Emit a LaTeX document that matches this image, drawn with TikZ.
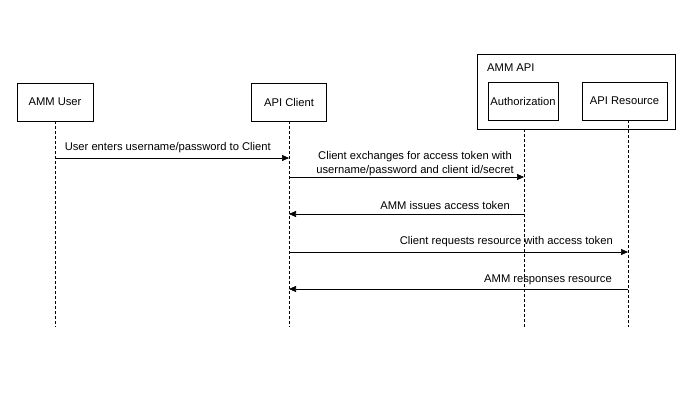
\documentclass[tikz,border=0pt]{standalone}
\usepackage{fontspec}
\setmainfont{Liberation Sans}
\usetikzlibrary{arrows.meta}
\begin{document}
\begin{tikzpicture}[x=1pt,y=-1pt,
  actor/.style={draw,line width=0.8pt,minimum height=38pt,inner sep=0pt,font=\fontsize{11.2}{13}\selectfont},
  life/.style={line width=0.7pt,dash pattern=on 3pt off 2pt},
  msg/.style={line width=0.7pt,-{Triangle[length=7pt,width=6pt]}},
  lbl/.style={font=\fontsize{11.2}{13.5}\selectfont,inner sep=0pt,align=center}]
\useasboundingbox (0,0) rectangle (691,405);
\node[draw,line width=0.8pt,minimum width=198pt,minimum height=75pt,inner sep=0pt] (api) at (576,91.5) {};
\node[lbl,anchor=west] (apit) at (487,68) {AMM API};
\node[actor,minimum width=76pt] (user) at (55,102) {AMM User};
\node[actor,minimum width=75pt] (client) at (289,102) {API Client};
\node[actor,minimum width=70pt] (auth) at (523,101) {Authorization};
\node[actor,minimum width=85pt] (res) at (624.5,101) {API Resource};
\coordinate (ue) at (55,327);
\coordinate (ce) at (289,327);
\coordinate (ae) at (524,327);
\coordinate (re) at (628,327);
\draw[life] (user.south) -- (ue);
\draw[life] (client.south) -- (ce);
\draw[life] (524,129) -- (ae);
\draw[life] (628,120) -- (re);
% messages
\draw[msg] (55,158) -- (289,158);
\node[lbl,anchor=east] (m1) at (271,148) {User enters username/password to Client};
\draw[msg] (289,177) -- (524,177);
\node[lbl] (m2) at (415,163.5) {Client exchanges for access token with\\username/password and client id/secret};
\draw[msg] (524,214) -- (289,214);
\node[lbl,anchor=east] (m3) at (510,205) {AMM issues access token};
\draw[msg] (289,252) -- (628,252);
\node[lbl,anchor=east] (m4) at (613,242) {Client requests resource with access token};
\draw[msg] (628,289) -- (289,289);
\node[lbl,anchor=east] (m5) at (612,280) {AMM responses resource};
\end{tikzpicture}
\end{document}
